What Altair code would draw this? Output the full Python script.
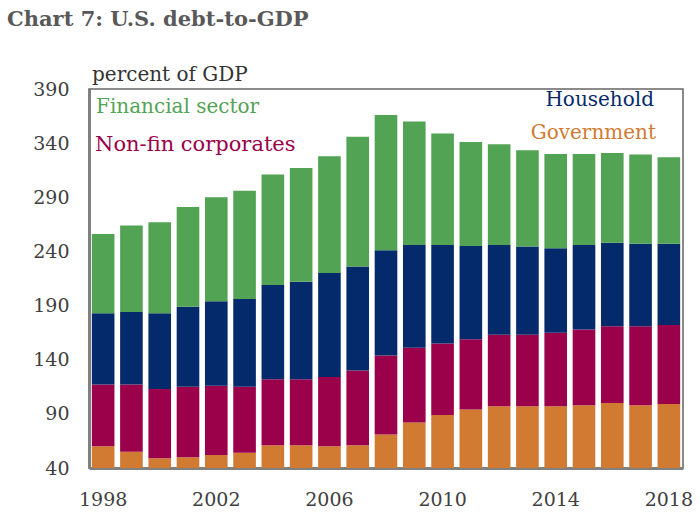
import altair as alt
import pandas as pd

years = list(range(1998, 2019))
government = [60, 55, 49, 50, 52, 54, 61, 61, 60, 61, 71, 82, 89, 94, 97, 97, 97, 98, 100, 98, 99]
nonfin_corp = [57, 62, 64, 65, 64, 61, 61, 61, 64, 69, 73, 69, 66, 65, 66, 66, 68, 70, 71, 73, 73]
household = [66, 67, 70, 74, 78, 81, 87, 90, 96, 96, 97, 95, 91, 86, 83, 81.5, 78, 78, 77, 76, 75]
financial = [73, 80, 84, 92, 96, 100, 102, 105, 108, 120, 125, 114, 103, 96, 93, 89, 87, 84, 83, 82.5, 80]

series = ["Government", "Non-fin corporates", "Household", "Financial sector"]
colors = ["#D17A32", "#9B004A", "#052A6B", "#53A355"]
y_ticks = [40, 90, 140, 190, 240, 290, 340, 390]
x_ticks = [1998, 2002, 2006, 2010, 2014, 2018]

rows = []
for name, vals in zip(series, [government, nonfin_corp, household, financial]):
    for yr, v in zip(years, vals):
        rows.append({"year": yr, "series": name, "value": v, "order": series.index(name)})
df = pd.DataFrame(rows)

FONT = "DejaVu Serif"
W, H = 594, 379

bars = alt.Chart(df).mark_bar(clip=True).encode(
    x=alt.X("year:O", scale=alt.Scale(paddingInner=0.2, paddingOuter=0.1),
            axis=alt.Axis(values=x_ticks, labelAngle=0, title=None, ticks=False,
                          labelFontSize=19, labelFont=FONT, labelColor="#404040",
                          labelPadding=22, domainColor="#808080", domainWidth=3)),
    y=alt.Y("value:Q", stack="zero",
            scale=alt.Scale(domain=[40, 390], zero=False, nice=False),
            axis=alt.Axis(values=y_ticks, title=None, ticks=False, grid=False,
                          labelFontSize=19, labelFont=FONT, labelColor="#404040",
                          labelPadding=20, domainColor="#808080", domainWidth=3)),
    color=alt.Color("series:N", scale=alt.Scale(domain=series, range=colors), legend=None),
    order=alt.Order("order:Q", sort="ascending"),
)

def label(text, x, y, color, align="left", size=20, weight="normal"):
    return alt.Chart(pd.DataFrame({"t": [text]})).mark_text(
        align=align, baseline="middle", font=FONT, fontSize=size, color=color,
        fontWeight=weight
    ).encode(text="t:N", x=alt.value(x), y=alt.value(y))

texts = [
    label("Chart 7: U.S. debt-to-GDP", -82, -69, "#595959", size=21, weight="bold"),
    label("percent of GDP", 3, -14, "#333333", size=20),
    label("Financial sector", 7, 18, "#53A355", size=20),
    label("Non-fin corporates", 6, 56, "#9B004A", size=21),
    label("Household", 565, 11, "#052A6B", align="right"),
    label("Government", 567, 44, "#D17A32", align="right"),
]

chart = alt.layer(bars, *texts).properties(
    width=W, height=H,
    autosize=alt.AutoSizeParams(type="none"),
    padding={"left": 89, "top": 89, "right": 17, "bottom": 47},
).configure_view(stroke="#666666", strokeWidth=1.5).configure_axis(grid=False)

chart.save("out.html", embed_options={"renderer": "svg", "actions": False})
